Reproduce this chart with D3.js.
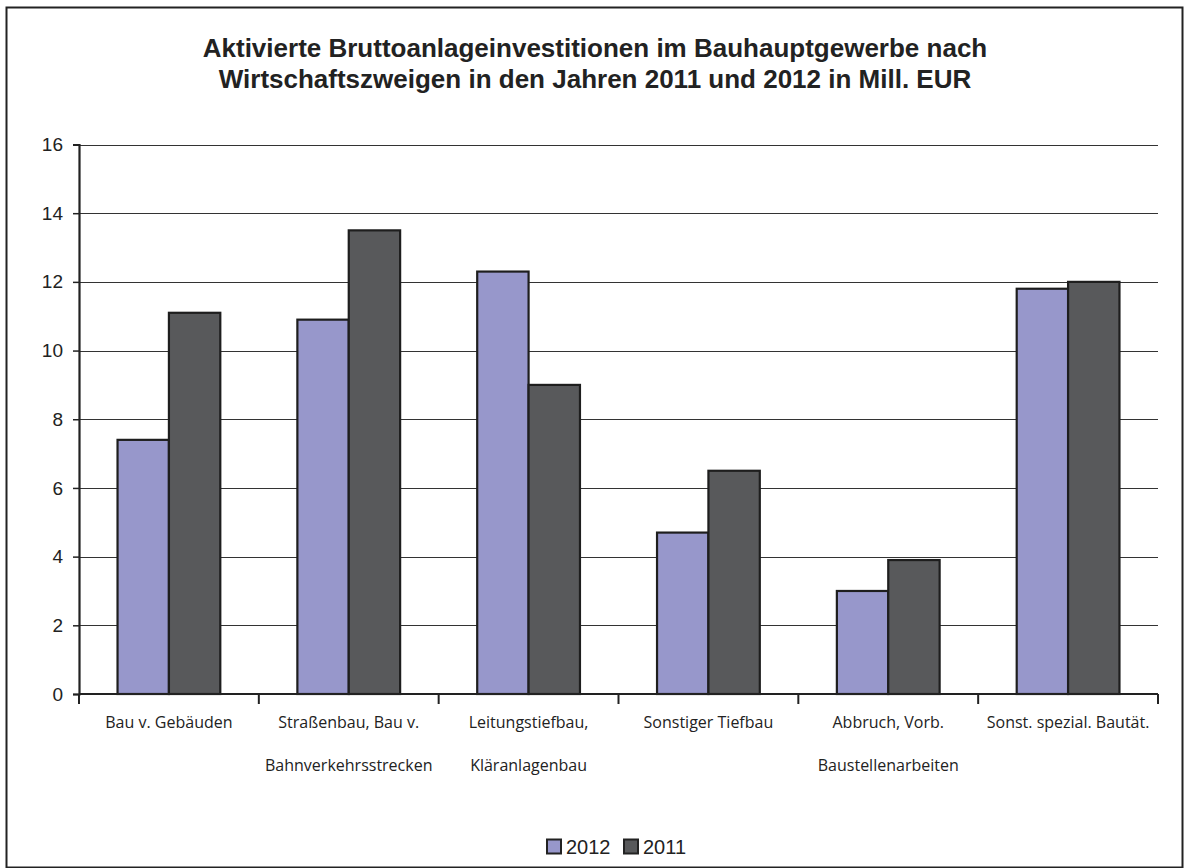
<!DOCTYPE html>
<html>
<head>
<meta charset="utf-8">
<script src="https://cdn.jsdelivr.net/npm/d3@7"></script>
<style>
  body { margin: 0; background: #fff; }
  svg { display: block; }
</style>
</head>
<body>
<svg id="chart" width="1189" height="868"></svg>
<script>
"use strict";

// categories (x axis), split into lines as in the original
var categories = [
  ["Bau v. Gebäuden"],
  ["Straßenbau, Bau v.", "Bahnverkehrsstrecken"],
  ["Leitungstiefbau,", "Kläranlagenbau"],
  ["Sonstiger Tiefbau"],
  ["Abbruch, Vorb.", "Baustellenarbeiten"],
  ["Sonst. spezial. Bautät."]
]
var values2012 = [7.4, 10.9, 12.3, 4.7, 3.0, 11.8]
var values2011 = [11.1, 13.5, 9.0, 6.5, 3.9, 12.0]
var seriesNames = ["2012", "2011"]
var yTicks = [0, 2, 4, 6, 8, 10, 12, 14, 16]

var colors = {"2012": "#9797cb", "2011": "#58595b"}

function drawChart() {
  var svg = d3.select("#chart")

  // outer frame
  svg.append("rect")
      .attr("x", 6.5).attr("y", 7.5)
      .attr("width", 1176).attr("height", 860)
      .style("fill", "white")
      .style("stroke", "#222")
      .style("stroke-width", 2)

  // title
  var title = svg.append("text")
      .attr("text-anchor", "middle")
      .style("font-family", "'Liberation Sans', Arial, sans-serif")
      .style("font-weight", "bold")
      .style("font-size", "26px")
      .style("fill", "#222")
  title.append("tspan").attr("x", 595).attr("y", 57)
      .text("Aktivierte Bruttoanlageinvestitionen im Bauhauptgewerbe nach")
  title.append("tspan").attr("x", 595).attr("y", 88)
      .text("Wirtschaftszweigen in den Jahren 2011 und 2012 in Mill. EUR")

  var plotLeft = 79, plotRight = 1158, plotTop = 144.5, plotBottom = 694

  var x = d3.scaleBand()
      .domain(d3.range(categories.length))
      .range([plotLeft, plotRight])
      .paddingInner(0)
      .paddingOuter(0)

  var inner = d3.scaleBand()
      .domain(seriesNames)
      .range([0, x.bandwidth()])
      .paddingInner(0)
      .paddingOuter(0.75)

  var y = d3.scaleLinear().domain([0, 16]).range([plotBottom, plotTop])

  // grid lines
  svg.append("g")
    .selectAll("line")
    .data(yTicks.filter(function(d){ return d > 0 }))
    .enter()
    .append("line")
      .attr("x1", plotLeft).attr("x2", plotRight)
      .attr("y1", function(d){ return Math.round(y(d)) + 0.5 })
      .attr("y2", function(d){ return Math.round(y(d)) + 0.5 })
      .style("stroke", "#333")
      .style("stroke-width", 1.2)

  // bars
  var rows = categories.map(function(c, i){
    return [{s: "2012", v: values2012[i]}, {s: "2011", v: values2011[i]}]
  })

  var groups = svg.append("g")
    .selectAll("g")
    .data(rows)
    .enter()
    .append("g")
      .attr("transform", function(d, i){ return "translate(" + x(i) + ",0)" })

  groups.selectAll("rect")
    .data(function(d){ return d })
    .enter()
    .append("rect")
      .attr("x", function(d){ return inner(d.s) })
      .attr("y", function(d){ return y(d.v) })
      .attr("width", inner.bandwidth())
      .attr("height", function(d){ return plotBottom - y(d.v) })
      .style("fill", function(d){ return colors[d.s] })
      .style("stroke", "#1e1e1e")
      .style("stroke-width", 2.2)

  // y axis
  var yAxis = svg.append("g")
      .attr("transform", "translate(" + plotLeft + ",0)")
      .call(d3.axisLeft(y).tickValues(yTicks).tickSize(6).tickPadding(10))
  yAxis.select(".domain").style("stroke", "#222").style("stroke-width", 2.2)
  yAxis.selectAll(".tick line").style("stroke", "#222").style("stroke-width", 1.5)
  yAxis.selectAll("text")
      .style("font-family", "'Liberation Sans', Arial, sans-serif")
      .style("font-size", "19px")
      .style("fill", "#222")

  // x axis (boundary ticks between categories)
  var edges = d3.range(categories.length + 1)
  svg.append("line")
      .attr("x1", plotLeft).attr("x2", plotRight)
      .attr("y1", plotBottom).attr("y2", plotBottom)
      .style("stroke", "#222")
      .style("stroke-width", 2.2)
  svg.append("g")
    .selectAll("line")
    .data(edges)
    .enter()
    .append("line")
      .attr("x1", function(d){ return d < categories.length ? x(d) : plotRight })
      .attr("x2", function(d){ return d < categories.length ? x(d) : plotRight })
      .attr("y1", plotBottom).attr("y2", plotBottom + 10)
      .style("stroke", "#222")
      .style("stroke-width", 2)

  var labels = svg.append("g")
    .selectAll("text")
    .data(categories)
    .enter()
    .append("text")
      .attr("text-anchor", "middle")
      .style("font-family", "'Open Sans', 'Noto Sans', sans-serif")
      .style("font-size", "16px")
      .style("fill", "#222")
  labels.selectAll("tspan")
    .data(function(d, i){ return d.map(function(t){ return {t: t, i: i} }) })
    .enter()
    .append("tspan")
      .attr("x", function(d){ return x(d.i) + x.bandwidth() / 2 })
      .attr("y", function(d, j){ return 728 + j * 43 })
      .text(function(d){ return d.t })

  // legend
  var legend = svg.append("g")
  var legendX = [547, 624]
  seriesNames.forEach(function(s, i){
    legend.append("rect")
        .attr("x", legendX[i]).attr("y", 839.5)
        .attr("width", 14).attr("height", 14)
        .style("fill", colors[s])
        .style("stroke", "#222")
        .style("stroke-width", 2)
    legend.append("text")
        .attr("x", legendX[i] + 19).attr("y", 854)
        .style("font-family", "'Liberation Sans', Arial, sans-serif")
        .style("font-size", "20px")
        .style("fill", "#222")
        .text(s)
  })
}

drawChart()
</script>
</body>
</html>
